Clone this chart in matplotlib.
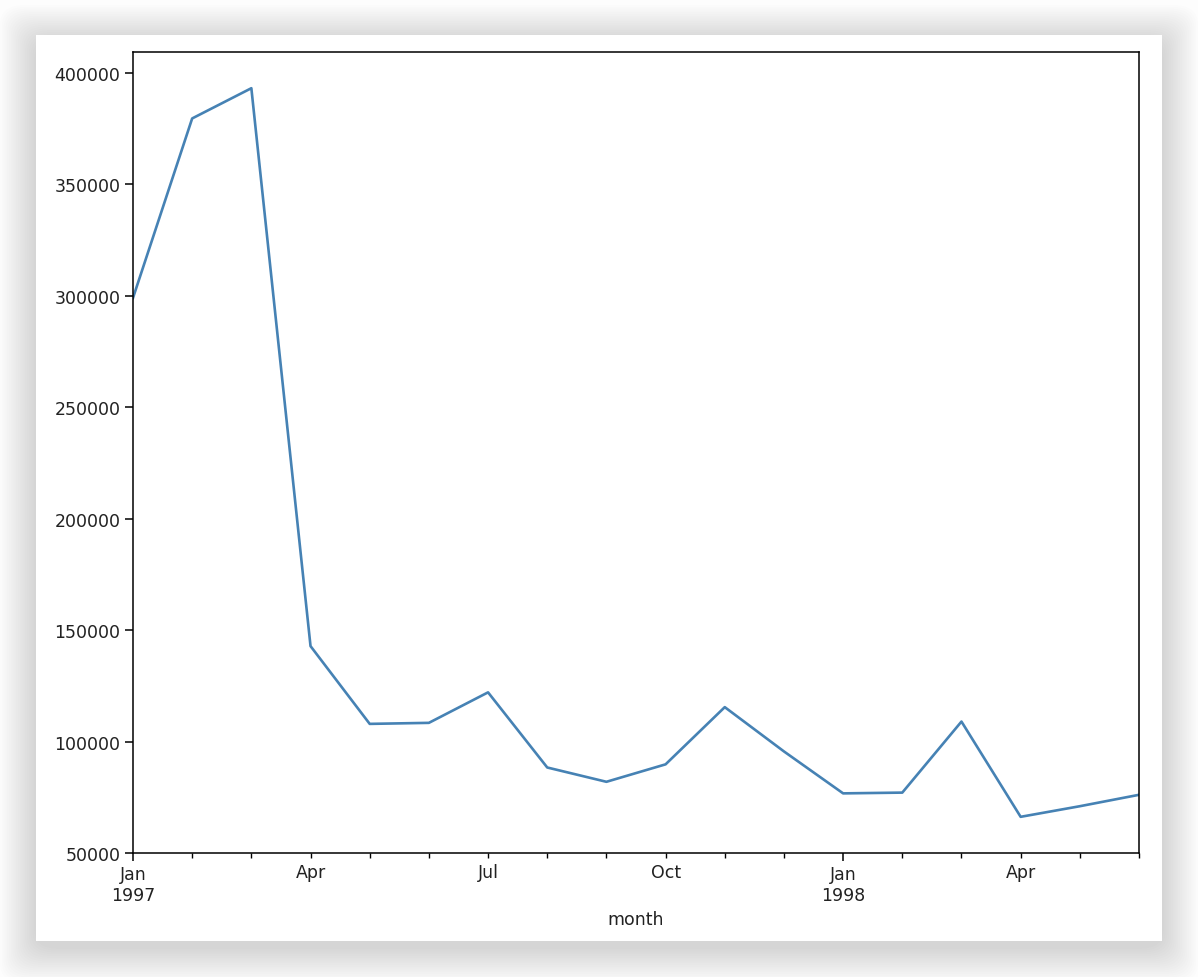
import pandas as pd
import matplotlib
matplotlib.use('Agg')
import matplotlib.pyplot as plt
from matplotlib.patches import FancyBboxPatch

# monthly order amount
months = pd.period_range('1997-01', '1998-06', freq='M')
amount = [299060.17, 379590.03, 393155.27, 142824.49, 107933.30, 108395.87,
          122078.88, 88367.69, 81948.80, 89780.77, 115448.64, 95577.35,
          76756.78, 77096.96, 108970.15, 66231.52, 70989.66, 76109.30]

s = pd.Series(amount, index=pd.PeriodIndex(months, name='month'))

W, H = 1198, 978
fig = plt.figure(figsize=(W / 100, H / 100), dpi=100)
fig.patch.set_facecolor('#fdfdfd')

# soft shadow behind the card
for i in range(20, 0, -1):
    pad = i * 1.8
    fig.patches.append(FancyBboxPatch(
        ((36 - pad) / W, 1 - (942 + pad + 6) / H),
        (1126 + 2 * pad) / W, (906 + 2 * pad) / H,
        boxstyle='round,pad=0,rounding_size=0.02', transform=fig.transFigure,
        facecolor='black', edgecolor='none', alpha=0.0075, zorder=-2))
# white card
fig.patches.append(FancyBboxPatch(
    (36 / W, 1 - 942 / H), 1126 / W, 906 / H,
    boxstyle='square,pad=0', transform=fig.transFigure,
    facecolor='white', edgecolor='none', zorder=-1))

ax = fig.add_axes([133 / W, 1 - 854 / H, (1139 - 133) / W, (854 - 53) / H])
ax.patch.set_alpha(0)
s.plot(ax=ax, color='#4682b4', linewidth=1.9)

ax.set_ylim(50000, 409400)
ax.tick_params(which='both', labelsize=12.5, labelcolor='#222222')
ax.tick_params(which='major', width=1.1, length=5.5)
ax.tick_params(which='minor', width=1.0, length=3.5)
ax.set_xlabel('month', fontsize=12.5, color='#222222')
for sp in ax.spines.values():
    sp.set_linewidth(1.1)

fig.savefig('out.png', dpi=100, facecolor=fig.get_facecolor())
